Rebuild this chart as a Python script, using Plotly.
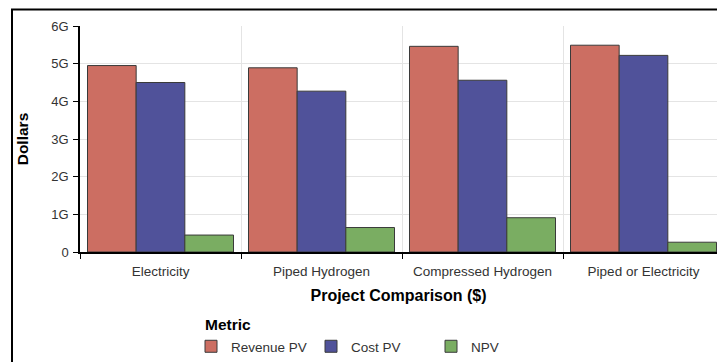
import plotly.graph_objects as go

categories = ["Electricity", "Piped Hydrogen", "Compressed Hydrogen", "Piped or Electricity"]
revenue_pv = [4.95e9, 4.89e9, 5.46e9, 5.49e9]
cost_pv = [4.50e9, 4.27e9, 4.56e9, 5.22e9]
npv = [0.45e9, 0.65e9, 0.91e9, 0.26e9]
y_tickvals = [0, 1e9, 2e9, 3e9, 4e9, 5e9, 6e9]

W, H = 717, 362
ML, MR, MT, MB = 80, 0, 26, 104
cat_px = 161.0
plot_w = W - ML - MR
plot_h = H - MT - MB

font = "Liberation Sans, Arial, sans-serif"
outline = dict(color="#3a3a3a", width=1)

fig = go.Figure()
fig.add_trace(go.Bar(name="Revenue PV", x=categories, y=revenue_pv,
                     marker=dict(color="#CC6E62", line=outline)))
fig.add_trace(go.Bar(name="Cost PV", x=categories, y=cost_pv,
                     marker=dict(color="#50529A", line=outline)))
fig.add_trace(go.Bar(name="NPV", x=categories, y=npv,
                     marker=dict(color="#7AAD62", line=outline)))


def px_x(p):
    return (p - ML) / plot_w


def px_y(p):
    return (H - MB - p) / plot_h


fig.update_layout(
    width=W, height=H,
    margin=dict(l=ML, r=MR, t=MT, b=MB, pad=0),
    paper_bgcolor="white", plot_bgcolor="white",
    barmode="group", bargap=15 / 161, bargroupgap=0,
    font=dict(family=font, size=13, color="#333333"),
    xaxis=dict(
        range=[-0.5, -0.5 + plot_w / cat_px],
        tickson="boundaries", ticks="outside", ticklen=5, tickcolor="black",
        showline=True, linecolor="black", linewidth=1.5,
        showgrid=True, gridcolor="#e4e4e4", gridwidth=1,
        tickfont=dict(size=13.5, color="#333333"),
        ticklabelstandoff=6,
        title=dict(text="<b>Project Comparison ($)</b>", font=dict(size=16, color="black"), standoff=12),
    ),
    yaxis=dict(
        range=[0, 6e9], tickvals=y_tickvals, tickformat="~s",
        ticks="outside", ticklen=5, tickcolor="black",
        showline=True, linecolor="black", linewidth=1.5,
        showgrid=True, gridcolor="#e4e4e4", gridwidth=1,
        zeroline=False,
        tickfont=dict(size=13, color="#333333"),
        ticklabelstandoff=2,
        title=dict(text="<b>Dollars</b>", font=dict(size=15.5, color="black"), standoff=19),
    ),
    legend=dict(
        orientation="h", x=px_x(191), xanchor="left", y=px_y(355), yanchor="middle",
        font=dict(size=13.5, color="#333333"),
        entrywidth=75, entrywidthmode="pixels",
        tracegroupgap=0,
    ),
    annotations=[dict(text="<b>Metric</b>", xref="paper", yref="paper",
                      x=px_x(203), y=px_y(332), xanchor="left", yanchor="middle",
                      showarrow=False, font=dict(size=15.5, color="black"))],
    shapes=[dict(type="rect", xref="paper", yref="paper",
                 x0=px_x(12), x1=px_x(800), y0=px_y(420), y1=px_y(9),
                 line=dict(color="black", width=2), fillcolor="rgba(0,0,0,0)",
                 layer="above")],
)

fig.write_html(
    "out.html",
    config={"displayModeBar": False},
    post_script="document.body.style.margin='0';document.body.style.overflow='hidden';",
)
